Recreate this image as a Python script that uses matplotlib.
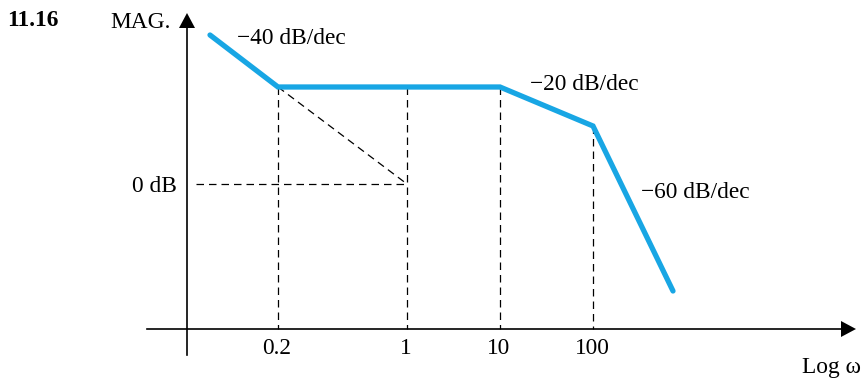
import matplotlib.pyplot as plt

# Asymptotic Bode magnitude sketch (schematic, not to scale)
tick_labels = ["0.2", "1", "10", "100"]
tick_pos = [278, 407, 500, 593]

# Piecewise magnitude curve (x position, height)
mag_x = [210, 278, 500, 593, 673]
mag_y = [35, 87, 87, 126, 291]

zero_db_y = 184
axis_x0 = 187
axis_y0 = 329

slope_labels = ["\u221240 dB/dec", "\u221220 dB/dec", "\u221260 dB/dec"]
slope_pos = [(237, 38), (530, 85), (641, 193)]

BLUE = "#18a6e4"
FONT = "Liberation Serif"
FS = 16.8


def main():
    fig = plt.figure(figsize=(8.62, 3.81), dpi=100)
    ax = fig.add_axes([0, 0, 1, 1])
    ax.set_xlim(0, 862)
    ax.set_ylim(381, 0)
    ax.axis("off")

    dash = dict(color="black", lw=0.9, ls=(0, (6, 4)))

    # Axes with arrow heads
    ax.plot([axis_x0, axis_x0], [355, 26], color="black", lw=1.2)
    ax.plot([147, 842], [axis_y0, axis_y0], color="black", lw=1.2)
    ax.fill([axis_x0 - 8, axis_x0 + 8, axis_x0], [28, 28, 13], color="black", lw=0)
    ax.fill([841, 841, 856], [axis_y0 - 8, axis_y0 + 8, axis_y0], color="black", lw=0)

    # Dashed guide lines
    ax.plot([tick_pos[0]] * 2, [mag_y[1], axis_y0], **dash)
    ax.plot([tick_pos[1]] * 2, [mag_y[1], axis_y0], **dash)
    ax.plot([tick_pos[2]] * 2, [mag_y[2], axis_y0], **dash)
    ax.plot([tick_pos[3]] * 2, [mag_y[3], axis_y0], **dash)
    ax.plot([196, tick_pos[1]], [zero_db_y, zero_db_y], **dash)
    ax.plot([tick_pos[0], tick_pos[1]], [mag_y[1], zero_db_y], **dash)

    # Magnitude curve
    ax.plot(mag_x, mag_y, color=BLUE, lw=3.8, solid_capstyle="round",
            solid_joinstyle="miter")

    # Labels
    ax.text(7, 21, "11.16", fontsize=FS, fontweight="bold", family=FONT,
            va="center", ha="left")
    ax.text(171, 23, "MAG.", fontsize=FS, family=FONT, va="center", ha="right")
    ax.text(177, 186, "0 dB", fontsize=FS, family=FONT, va="center", ha="right")
    for lab, (x, y) in zip(slope_labels, slope_pos):
        ax.text(x, y, lab, fontsize=FS, family=FONT, va="center", ha="left")
    for lab, x in zip(tick_labels, tick_pos):
        ax.text(x - 1, 348, lab, fontsize=FS, family=FONT, va="center", ha="center")
    ax.text(802, 368, "Log \u03c9", fontsize=FS, family=FONT, va="center", ha="left")

    fig.savefig("out.png", dpi=100)


if __name__ == "__main__":
    main()
